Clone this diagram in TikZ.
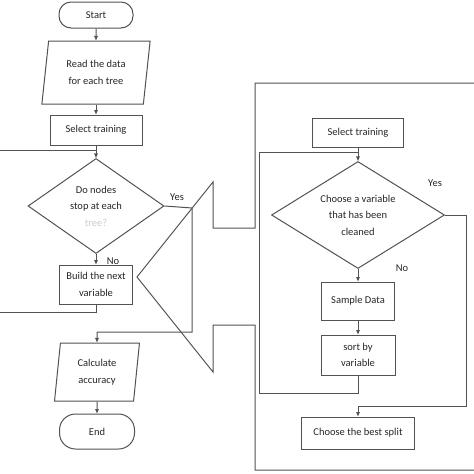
\documentclass[tikz,border=0pt]{standalone}
\usepackage{fontspec}
\setmainfont{Carlito}
\usetikzlibrary{shapes.geometric,arrows.meta}
\begin{document}
\begin{tikzpicture}
  [x=1pt,y=-1pt,line width=1pt,draw=black!68,
   every node/.style={text=black!85,font=\fontsize{10.5}{16.5}\selectfont,align=center,inner sep=0pt},
   box/.style={draw,rectangle},
   term/.style={draw,rectangle,rounded corners=12pt},
   para/.style={draw,trapezium,trapezium left angle=80,trapezium right angle=100,trapezium stretches=true},
   choice/.style={draw,diamond},
   arr/.style={-{Triangle[length=4.5pt,width=3.5pt]}}]
  \useasboundingbox (0,0) rectangle (474,474);
  % main loop
  \node (start)[term,minimum width=74,minimum height=26] at (96,15) {Start};
  \node (read)[para,minimum width=109,minimum height=63] at (96,72.5) {Read the data\\for each tree};
  \node (sel1)[box,minimum width=92,minimum height=30] at (96,130) {Select training};
  \node (dec1)[choice,aspect=1.45,minimum width=136,minimum height=95] at (96,206) {Do nodes\\stop at each\\{\color{black!20}tree?}};
  \node (build)[box,minimum width=73,minimum height=39] at (96,284.5) {Build the next\\variable};
  \node (calc)[para,trapezium left angle=83,trapezium right angle=97,minimum width=85,minimum height=58] at (97,372) {Calculate\\accuracy};
  \node (end)[term,rounded corners=16pt,minimum width=75,minimum height=35] at (97,431.5) {End};
  % inner loop
  \node (sel2)[box,minimum width=91,minimum height=29] at (358,132.5) {Select training};
  \node (dec2)[choice,aspect=1.6,minimum width=173,minimum height=107] at (358,215) {Choose a variable\\that has been\\cleaned};
  \node (sample)[box,minimum width=73,minimum height=38] at (358,301) {Sample Data};
  \node (sort)[box,minimum width=74,minimum height=40] at (358,355) {sort by\\variable};
  \node (best)[box,minimum width=113,minimum height=32] at (358,433) {Choose the best split};
  \node (yesA) at (177,197) {Yes};
  \node (noA) at (113,261) {No};
  \node (yesB) at (435,183) {Yes};
  \node (noB) at (402,268) {No};
  \coordinate (inL) at (0,150);
  \coordinate (outL) at (0,312);
  \coordinate (yes1) at (192,208);
  \coordinate (bend1) at (192,332);
  \coordinate (loopR) at (259,393);
  \coordinate (topR) at (259,152);
  \coordinate (yes2) at (466,406);
 \foreach \from/\to in {start/read,read/sel1,sel1/dec1,dec1/build,calc/end,sel2/dec2,dec2/sample,sample/sort}
    \draw[arr] (\from) -- (\to);
  \draw (inL) -- (inL -| dec1.north);
  \draw (build.south) -- (build.south |- outL) -- (outL);
  \draw[arr] (dec1.east) -- (yes1) -- (bend1) -- (bend1 -| calc.north) -- (calc.north);
  \draw (sort.south) -- (sort.south |- loopR) -- (loopR) -- (topR) -- (topR -| dec2.north);
  \draw[arr] (dec2.east) -- (dec2.east -| yes2) -- (yes2) -- (yes2 -| best.north) -- (best.north);
  % outer box with block arrow
  \draw (474,83) -- (255,83) -- (255,228) -- (213,228) -- (213,182) -- (137,277)
    -- (213,372) -- (213,325) -- (255,325) -- (255,470) -- (474,470);
\end{tikzpicture}
\end{document}
